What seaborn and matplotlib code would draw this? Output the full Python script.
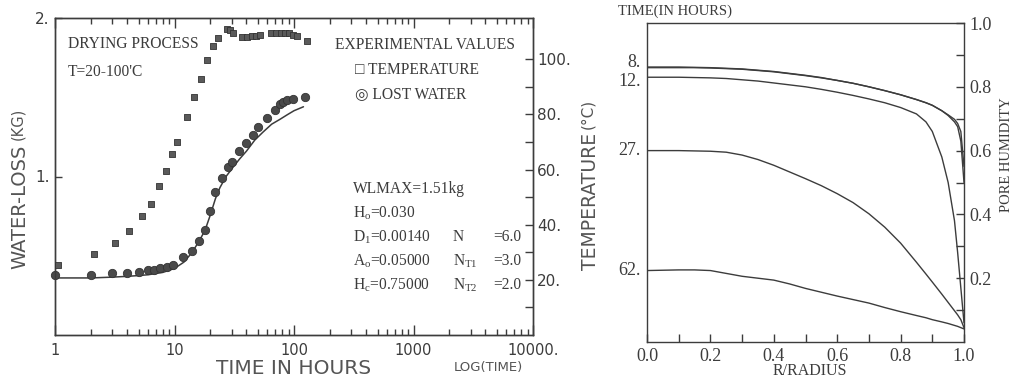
import matplotlib
matplotlib.use("Agg")
import matplotlib.pyplot as plt
import matplotlib.transforms as mtrans
from matplotlib.ticker import FixedLocator, NullFormatter
import numpy as np
import pandas as pd
import seaborn as sns

# ---------------- data: left panel (drying process) ----------------
temp_time = [1.05, 2.1, 3.2, 4.2, 5.3, 6.35, 7.4, 8.5, 9.5, 10.5, 12.7, 14.5, 16.6,
             18.8, 21.0, 23.2, 27.4, 29.0, 31.0, 36.7, 40.5, 44.5, 48.1, 51.9,
             64.2, 70.7, 77.9, 84.1, 90.8, 98.1, 105.9, 128.5]
temp_vals = [25.5, 29.5, 33.5, 37.8, 43.0, 47.6, 54.0, 59.6, 65.5, 70.0, 79.0, 86.5, 93.0,
             99.6, 104.7, 107.6, 111.0, 110.5, 109.5, 108.2, 108.2, 108.3, 108.5, 108.8,
             109.5, 109.5, 109.5, 109.5, 109.5, 109.0, 108.5, 106.5]

water_time = [1.0, 2.0, 3.0, 4.0, 5.0, 6.0, 6.8, 7.6, 8.6, 9.7, 11.8, 14.0, 16.0, 18.0,
              19.8, 21.8, 25.0, 28.0, 30.5, 34.6, 40.0, 45.0, 50.0, 59.0, 69.0, 76.0,
              81.0, 87.0, 98.0, 123.0]
water_vals = [0.38, 0.38, 0.39, 0.39, 0.40, 0.41, 0.41, 0.42, 0.43, 0.44, 0.49, 0.53, 0.59,
              0.66, 0.78, 0.90, 0.99, 1.06, 1.09, 1.16, 1.21, 1.26, 1.31, 1.37, 1.42, 1.46,
              1.47, 1.48, 1.49, 1.50]

model_time = [1, 2, 3, 4, 5, 6, 8, 10, 12, 14, 16, 18, 20, 22, 24, 27, 31, 35, 40, 47,
              55, 65, 76, 88, 100, 120]
model_vals = [0.36, 0.36, 0.365, 0.37, 0.375, 0.38, 0.395, 0.42, 0.46, 0.52, 0.59, 0.66,
              0.76, 0.86, 0.93, 1.0, 1.06, 1.11, 1.16, 1.23, 1.28, 1.33, 1.36, 1.39,
              1.415, 1.44]

x_major = [1, 10, 100, 1000, 10000]
x_labels = ["1", "10", "100", "1000", "10000."]
wl_ticks = [1, 2]
wl_labels = ["1.", "2."]
temp_ticks = [20, 40, 60, 80, 100]
temp_labels = ["20.", "40.", "60.", "80.", "100."]
temp_minor = [10, 30, 50, 70, 90]

# ---------------- data: right panel (pore humidity profiles) ----------------
radius = [0.0, 0.05, 0.1, 0.15, 0.2, 0.25, 0.3, 0.35, 0.4, 0.45, 0.5, 0.55, 0.6, 0.65,
          0.7, 0.75, 0.8, 0.85, 0.88, 0.9, 0.93, 0.95, 0.97, 0.98, 0.99, 1.0]
hum_8a = [0.86, 0.86, 0.86, 0.86, 0.859, 0.857, 0.855, 0.851, 0.847, 0.841, 0.835, 0.828,
          0.82, 0.811, 0.80, 0.788, 0.775, 0.76, 0.75, 0.742, 0.725, 0.71, 0.69, 0.675,
          0.63, 0.50]
hum_8b = [0.862, 0.862, 0.862, 0.861, 0.86, 0.858, 0.856, 0.852, 0.848, 0.842, 0.836,
          0.829, 0.82, 0.811, 0.80, 0.788, 0.775, 0.76, 0.75, 0.742, 0.725, 0.712, 0.698,
          0.685, 0.66, 0.55]
hum_12 = [0.83, 0.83, 0.83, 0.829, 0.828, 0.826, 0.822, 0.818, 0.812, 0.806, 0.80, 0.792,
          0.783, 0.773, 0.762, 0.75, 0.735, 0.715, 0.69, 0.66, 0.58, 0.50, 0.38, 0.28,
          0.17, 0.06]
hum_27 = [0.60, 0.60, 0.60, 0.599, 0.598, 0.595, 0.586, 0.572, 0.554, 0.533, 0.512, 0.49,
          0.465, 0.437, 0.402, 0.36, 0.31, 0.25, 0.213, 0.188, 0.15, 0.124, 0.098, 0.085,
          0.07, 0.045]
hum_62 = [0.224, 0.225, 0.226, 0.226, 0.224, 0.215, 0.206, 0.20, 0.194, 0.182, 0.168,
          0.156, 0.144, 0.133, 0.122, 0.108, 0.095, 0.083, 0.076, 0.07, 0.063, 0.058,
          0.052, 0.049, 0.045, 0.041]
curve_labels = ["8.", "", "12.", "27.", "62."]
hum_ticks = [0.2, 0.4, 0.6, 0.8, 1.0]
hum_labels = ["0.2", "0.4", "0.6", "0.8", "1.0"]
r_ticks = [0.0, 0.2, 0.4, 0.6, 0.8, 1.0]
r_labels = ["0.0", "0.2", "0.4", "0.6", "0.8", "1.0"]

# ---------------- style ----------------
sns.set_theme(style="ticks")
plt.rcParams["font.family"] = ["DejaVu Sans"]
plt.rcParams["mathtext.fontset"] = "custom"
plt.rcParams["mathtext.rm"] = "Liberation Serif"
plt.rcParams["mathtext.it"] = "Liberation Serif"
INK = "#3c3c3c"
LABEL = "#555555"
SANS = ["DejaVu Sans"]
SERIF = ["Liberation Serif", "DejaVu Sans"]

W, H = 1024, 382
fig = plt.figure(figsize=(W / 100, H / 100), dpi=100)
fig.patch.set_facecolor("white")


def fpx(x, y):
    return x / W, 1 - y / H


def box(x0, y0, x1, y1):
    return [x0 / W, 1 - y1 / H, (x1 - x0) / W, (y1 - y0) / H]


# ---------------- left panel ----------------
ax = fig.add_axes(box(55, 18, 533, 335))
ax.set_xscale("log")
ax.set_xlim(1, 10000)
ax.set_ylim(0, 2)

sns.lineplot(x=model_time, y=model_vals, ax=ax, color=INK, lw=1.1, estimator=None,
             sort=False)
sns.scatterplot(x=water_time, y=water_vals, ax=ax, marker="o", s=36, color="#4a4a4a",
                edgecolor="#333333", linewidth=0.6, clip_on=False, zorder=4)

ax.xaxis.set_major_locator(FixedLocator(x_major))
ax.set_xticklabels(x_labels)
minor = [m * 10 ** d for d in range(4) for m in range(2, 10)]
ax.xaxis.set_minor_locator(FixedLocator(minor))
ax.xaxis.set_minor_formatter(NullFormatter())
ax.tick_params(axis="x", which="major", direction="in", length=7, width=1, top=True,
               color=INK, pad=6, labelsize=10.5, labelcolor=INK)
ax.tick_params(axis="x", which="minor", direction="in", length=4.5, width=1, top=True,
               color=INK)
ax.set_yticks(wl_ticks)
ax.set_yticklabels(wl_labels)
ax.tick_params(axis="y", which="major", direction="in", length=5, width=1, color=INK,
               pad=4, labelsize=11, labelcolor=INK)
for lab in ax.get_xticklabels() + ax.get_yticklabels():
    lab.set_family(SANS)
for sp in ax.spines.values():
    sp.set_color(INK)
    sp.set_linewidth(1.0)
ax.set_xlabel("")
ax.set_ylabel("")

ax2 = ax.twinx()
sns.scatterplot(x=temp_time, y=temp_vals, ax=ax2, marker="s", s=20, color="#5a5a5a",
                edgecolor="#333333", linewidth=0.6, clip_on=False, zorder=4)
ax2.set_ylim(0, 115)
ax2.set_yticks(temp_ticks)
ax2.set_yticklabels(temp_labels)
ax2.yaxis.set_minor_locator(FixedLocator(temp_minor))
ax2.tick_params(axis="y", which="major", direction="in", length=6, width=1, color=INK,
                pad=3, labelsize=11, labelcolor=INK)
ax2.tick_params(axis="y", which="minor", direction="in", length=6, width=1, color=INK)
for lab in ax2.get_yticklabels():
    lab.set_family(SANS)
for sp in ax2.spines.values():
    sp.set_color(INK)
    sp.set_linewidth(1.0)
ax2.set_ylabel("")

# axis titles (left panel)
fig.text(*fpx(20, 207), "WATER-LOSS", rotation=90, ha="center", va="center",
         fontsize=14, color=LABEL, family=SANS)
fig.text(*fpx(18, 124), "(KG)", rotation=90, ha="center", va="center",
         fontsize=10.5, color=LABEL, family=SANS)
fig.text(*fpx(294, 368), "TIME IN HOURS", ha="center", va="center", fontsize=14.5,
         color=LABEL, family=SANS)
fig.text(*fpx(488, 368), "LOG(TIME)", ha="center", va="center", fontsize=9.5,
         color=LABEL, family=SANS)
fig.text(*fpx(590, 201), "TEMPERATURE", rotation=90, ha="center", va="center",
         fontsize=13.5, color=LABEL, family=SANS)
fig.text(*fpx(588, 114), "(°C)", rotation=90, ha="center", va="center",
         fontsize=11, color=LABEL, family=SANS)

# annotations (left panel)
ts = dict(fontsize=11.2, color=INK, family=SERIF, va="center")
fig.text(*fpx(68, 44), "DRYING PROCESS", **ts)
fig.text(*fpx(68, 72), "T=20-100'C", **ts)
fig.text(*fpx(335, 45), "EXPERIMENTAL VALUES", **ts)
fig.text(*fpx(355, 70), "□ TEMPERATURE", **ts)
fig.text(*fpx(355, 95), "◎ LOST WATER", **ts)
fig.text(*fpx(353, 189), "WLMAX=1.51kg", **ts)
fig.text(*fpx(353, 213), r"H$_\mathrm{o}$=0.030", **ts)
fig.text(*fpx(353, 237), r"D$_\mathrm{1}$=0.00140", **ts)
fig.text(*fpx(353, 261), r"A$_\mathrm{o}$=0.05000", **ts)
fig.text(*fpx(353, 285), r"H$_\mathrm{c}$=0.75000", **ts)
fig.text(*fpx(453, 237), "N", **ts)
fig.text(*fpx(453, 261), r"N$_\mathrm{T1}$", **ts)
fig.text(*fpx(453, 285), r"N$_\mathrm{T2}$", **ts)
fig.text(*fpx(521, 237), "=6.0", ha="right", **ts)
fig.text(*fpx(521, 261), "=3.0", ha="right", **ts)
fig.text(*fpx(521, 285), "=2.0", ha="right", **ts)

# ---------------- right panel ----------------
ax3 = fig.add_axes(box(647, 23, 964, 342))
profiles = [hum_8a, hum_8b, hum_12, hum_27, hum_62]
for prof in profiles:
    sns.lineplot(x=radius, y=prof, ax=ax3, color=INK, lw=1.0, estimator=None, sort=False)
ax3.set_xlim(0, 1)
ax3.set_ylim(0, 1)
ax3.set_xlabel("")
ax3.set_ylabel("")
ax3.yaxis.tick_right()
ax3.set_yticks(hum_ticks)
ax3.set_yticklabels(hum_labels)
ax3.yaxis.set_minor_locator(FixedLocator([0.1, 0.3, 0.5, 0.7, 0.9]))
ax3.set_xticks(r_ticks)
ax3.set_xticklabels(r_labels)
ax3.xaxis.set_minor_locator(FixedLocator([0.1, 0.3, 0.5, 0.7, 0.9]))
ax3.tick_params(axis="both", which="both", direction="in", length=6, width=1, color=INK)
ax3.tick_params(axis="y", which="major", pad=4, labelsize=13, labelcolor=INK)
ax3.tick_params(axis="x", which="major", pad=4, labelsize=13, labelcolor=INK)
for lab in ax3.get_xticklabels() + ax3.get_yticklabels():
    lab.set_family(SERIF)
for sp in ax3.spines.values():
    sp.set_color(INK)
    sp.set_linewidth(1.0)

trans = mtrans.blended_transform_factory(ax3.transAxes, ax3.transData)
label_shift = {"8.": 0.015, "12.": -0.012, "27.": 0.0, "62.": 0.0}
for prof, lab in zip(profiles, curve_labels):
    if lab:
        ax3.text(-0.02, prof[0] + label_shift[lab], lab, transform=trans, ha="right",
                 va="center", fontsize=13, color=INK, family=SERIF)

fig.text(*fpx(675, 11), "TIME(IN HOURS)", ha="center", va="center", fontsize=10.5,
         color=INK, family=SERIF)
fig.text(*fpx(810, 371), "R/RADIUS", ha="center", va="center", fontsize=11.5,
         color=INK, family=SERIF)
fig.text(*fpx(1006, 155), "PORE HUMIDITY", rotation=90, ha="center", va="center",
         fontsize=10.5, color=INK, family=SERIF)

fig.savefig("out.png", dpi=100, facecolor="white")
